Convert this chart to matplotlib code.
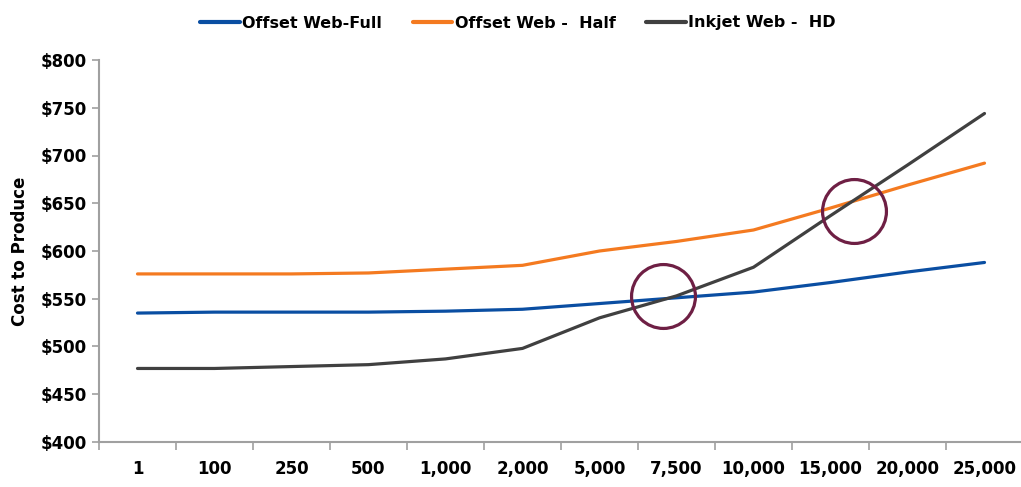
import numpy as np
import matplotlib.pyplot as plt

# run lengths on the x axis
categories = ['1', '100', '250', '500', '1,000', '2,000', '5,000',
              '7,500', '10,000', '15,000', '20,000', '25,000']

offset_full = [535, 536, 536, 536, 537, 539, 545, 551, 557, 567, 578, 588]
offset_half = [576, 576, 576, 577, 581, 585, 600, 610, 622, 645, 669, 692]
inkjet_hd = [477, 477, 479, 481, 487, 498, 530, 553, 583, 637, 690, 744]

# crossover highlights (category index, cost)
circle_x = [6.82, 9.30]
circle_y = [553, 642]

plt.rcParams['font.family'] = ['DejaVu Sans']
plt.rcParams['font.weight'] = 'bold'

fig = plt.figure(figsize=(10.21, 4.87), dpi=100)
ax = fig.add_axes([99 / 1021, 45 / 487, 924 / 1021, 382 / 487])

x = np.arange(len(categories))
ax.plot(x, offset_full, color='#0a4ea2', lw=2.3, label='Offset Web-Full', solid_capstyle='round')
ax.plot(x, offset_half, color='#f47a20', lw=2.3, label='Offset Web -  Half', solid_capstyle='round')
ax.plot(x, inkjet_hd, color='#404040', lw=2.3, label='Inkjet Web -  HD', solid_capstyle='round')

ax.plot(circle_x, circle_y, 'o', ms=46, mfc='none', mec='#6e1f44', mew=2.3)

ax.set_xlim(-0.5, len(categories) - 0.5)
ax.set_ylim(400, 800)
ax.set_yticks(np.arange(400, 801, 50))
ax.set_yticklabels(['${}'.format(v) for v in range(400, 801, 50)], fontsize=12, fontweight='bold')
ax.set_xticks(x)
ax.set_xticklabels(categories, fontsize=12, fontweight='bold')
ax.set_xticks(np.arange(-0.5, len(categories)), minor=True)
ax.tick_params(axis='x', which='major', length=0, pad=13)
ax.tick_params(axis='x', which='minor', length=6, color='#a0a0a0', width=1.2)
ax.tick_params(axis='y', length=5, color='#a0a0a0', width=1.2, pad=4)

for s in ['top', 'right']:
    ax.spines[s].set_visible(False)
for s in ['left', 'bottom']:
    ax.spines[s].set_color('#a0a0a0')
    ax.spines[s].set_linewidth(1.5)

ax.set_ylabel('Cost to Produce', fontsize=12, fontweight='bold', labelpad=8)

leg = fig.legend(loc='center', bbox_to_anchor=(518 / 1021, 1 - 23 / 487), ncol=3, frameon=False,
                 handlelength=2.5, handletextpad=0.15, columnspacing=1.9,
                 prop={'weight': 'bold', 'size': 11.5})
for h in leg.get_lines():
    h.set_linewidth(3)

fig.savefig('out.png', dpi=100)
